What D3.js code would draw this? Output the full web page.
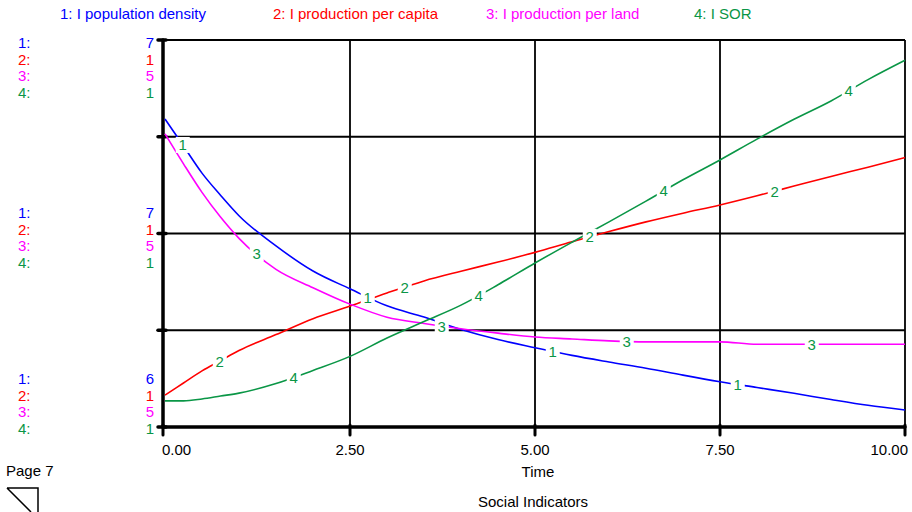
<!DOCTYPE html>
<html>
<head>
<meta charset="utf-8">
<script src="https://cdn.jsdelivr.net/npm/d3@7"></script>
<style>
  html, body { margin: 0; padding: 0; background: #fff; }
  svg { display: block; }
  text { font-family: "Liberation Sans", Arial, Helvetica, sans-serif; font-size: 15px; }
</style>
</head>
<body>
<svg id="chart" width="912" height="512"></svg>
<script>
// Simulation output, sampled over time
const times = [0, 0.25, 0.5, 0.75, 1, 1.5, 2, 2.5, 3, 3.5, 4, 4.5, 5, 5.5, 6, 6.5, 7, 7.5, 8, 8.5, 9, 9.5, 10];
const popDensity = [7.196, 7.126, 7.056, 6.999, 6.946, 6.868, 6.803, 6.757, 6.713, 6.684, 6.652, 6.626, 6.605, 6.585, 6.568, 6.552, 6.534, 6.517, 6.502, 6.487, 6.471, 6.456, 6.444];
const prodPerCapita = [0.666, 0.691, 0.716, 0.737, 0.758, 0.791, 0.824, 0.850, 0.877, 0.902, 0.922, 0.941, 0.961, 0.983, 1.004, 1.024, 1.042, 1.059, 1.078, 1.098, 1.118, 1.137, 1.157];
const prodPerLand = [5.206, 5.144, 5.085, 5.034, 4.990, 4.926, 4.888, 4.854, 4.827, 4.814, 4.803, 4.794, 4.786, 4.782, 4.778, 4.776, 4.776, 4.776, 4.771, 4.771, 4.771, 4.771, 4.771];
const sor = [0.654, 0.654, 0.658, 0.664, 0.670, 0.690, 0.717, 0.746, 0.784, 0.818, 0.852, 0.894, 0.939, 0.982, 1.024, 1.067, 1.111, 1.152, 1.195, 1.236, 1.274, 1.318, 1.358];

// Series names, per-series vertical scales, colours
const seriesNames = ["I population density", "I production per capita", "I production per land", "I SOR"];
const seriesValues = [popDensity, prodPerCapita, prodPerLand, sor];
const scaleMin = [6.4, 0.6, 4.6, 0.6];
const scaleMax = [7.4, 1.4, 5.4, 1.4];
const seriesColors = ["#0000ff", "#ff0000", "#ff00ff", "#0a9646"];
const labelColor = "#0a9646";

// Time axis
const timeTicks = [0, 2.5, 5, 7.5, 10];
const timeTitle = "Time";
const pageLabel = "Page 7";
const chartTitle = "Social Indicators";

const svg = d3.select("#chart");
const plotTop = 40, plotBottom = 427;
const x = d3.scaleLinear().domain([0, 10]).range([165, 905]);
const axisX = 163;
const yScales = seriesValues.map((v, i) =>
  d3.scaleLinear().domain([scaleMin[i], scaleMax[i]]).range([plotBottom, plotTop]));
const fmt = d3.format(".0f");
const tfmt = d3.format(".2f");

// Grid
const grid = svg.append("g").attr("stroke", "#000").attr("stroke-width", 1.8);
const yFrac = d3.scaleLinear().domain([0, 4]).range([plotBottom, plotTop]);
[1, 2, 3, 4].forEach(k => {
  grid.append("line").attr("x1", axisX).attr("x2", x(10))
    .attr("y1", yFrac(k)).attr("y2", yFrac(k));
});
timeTicks.slice(1).forEach(t => {
  grid.append("line").attr("x1", x(t)).attr("x2", x(t))
    .attr("y1", plotTop).attr("y2", plotBottom);
});

// Axes
const ax = svg.append("g").attr("stroke", "#000").attr("stroke-linecap", "round");
ax.append("line").attr("x1", axisX).attr("x2", axisX).attr("y1", plotTop).attr("y2", plotBottom).attr("stroke-width", 3.5);
ax.append("line").attr("x1", axisX).attr("x2", x(10)).attr("y1", plotBottom).attr("y2", plotBottom).attr("stroke-width", 3.5);
[0, 1, 2, 3, 4].forEach(k => {
  ax.append("line").attr("x1", axisX - 5).attr("x2", axisX + 3)
    .attr("y1", yFrac(k)).attr("y2", yFrac(k)).attr("stroke-width", 3.5);
});
timeTicks.forEach(t => {
  const xx = t === 0 ? axisX : x(t);
  ax.append("line").attr("x1", xx).attr("x2", xx)
    .attr("y1", plotBottom - 2).attr("y2", plotBottom + 8).attr("stroke-width", 3);
});

// Time tick labels
timeTicks.forEach((t, i) => {
  const anchor = i === 0 ? "start" : (i === timeTicks.length - 1 ? "end" : "middle");
  const xx = i === 0 ? axisX - 1 : (i === timeTicks.length - 1 ? x(t) + 3 : x(t));
  svg.append("text").attr("x", xx).attr("y", 455).attr("text-anchor", anchor)
    .attr("fill", "#000").text(tfmt(t));
});
svg.append("text").attr("x", 538).attr("y", 477).attr("text-anchor", "middle").text(timeTitle);
svg.append("text").attr("x", 533).attr("y", 507).attr("text-anchor", "middle").text(chartTitle);
svg.append("text").attr("x", 6).attr("y", 476).text(pageLabel);

// Page-turn icon
svg.append("path").attr("d", "M7,488 L38,488 L38,512 M7,488 L31,512")
  .attr("fill", "none").attr("stroke", "#000").attr("stroke-width", 1.5);

// Legend
const legendX = [60, 273, 486, 694];
seriesNames.forEach((n, i) => {
  svg.append("text").attr("x", legendX[i]).attr("y", 19)
    .attr("fill", seriesColors[i]).text(`${i + 1}: ${n}`);
});

// Per-series scale readouts (top, middle, bottom)
const groups = [
  { y0: 48, val: s => s.domain()[1] },
  { y0: 218, val: s => (s.domain()[0] + s.domain()[1]) / 2 },
  { y0: 384, val: s => s.domain()[0] }
];
groups.forEach(g => {
  yScales.forEach((s, i) => {
    const yy = g.y0 + i * 16.67;
    svg.append("text").attr("x", 18).attr("y", yy).attr("fill", seriesColors[i]).text(`${i + 1}:`);
    svg.append("text").attr("x", 154).attr("y", yy).attr("text-anchor", "end")
      .attr("fill", seriesColors[i]).text(fmt(g.val(s)));
  });
});

// Series lines
seriesValues.forEach((vals, i) => {
  const line = d3.line().curve(d3.curveMonotoneX)
    .x((d, j) => x(times[j])).y(d => yScales[i](d));
  svg.append("path").datum(vals).attr("d", line)
    .attr("fill", "none").attr("stroke", seriesColors[i]).attr("stroke-width", 1.6)
    .attr("stroke-linejoin", "round");
});

// Numbered curve markers
const bis = d3.bisector(d => d).right;
function valueAt(vals, t) {
  const j = Math.min(Math.max(bis(times, t), 1), times.length - 1);
  const t0 = times[j - 1], t1 = times[j];
  return vals[j - 1] + (vals[j] - vals[j - 1]) * (t - t0) / (t1 - t0);
}
seriesValues.forEach((vals, i) => {
  [0, 1, 2, 3].forEach(k => {
    const t = 0.24 + 0.5 * i + 2.5 * k;
    const px = x(t), py = yScales[i](valueAt(vals, t));
    svg.append("rect").attr("x", px - 7).attr("y", py - 8).attr("width", 14).attr("height", 16).attr("fill", "#fff");
    svg.append("text").attr("x", px).attr("y", py + 5.5).attr("text-anchor", "middle")
      .attr("fill", labelColor).text(i + 1);
  });
});
</script>
</body>
</html>
